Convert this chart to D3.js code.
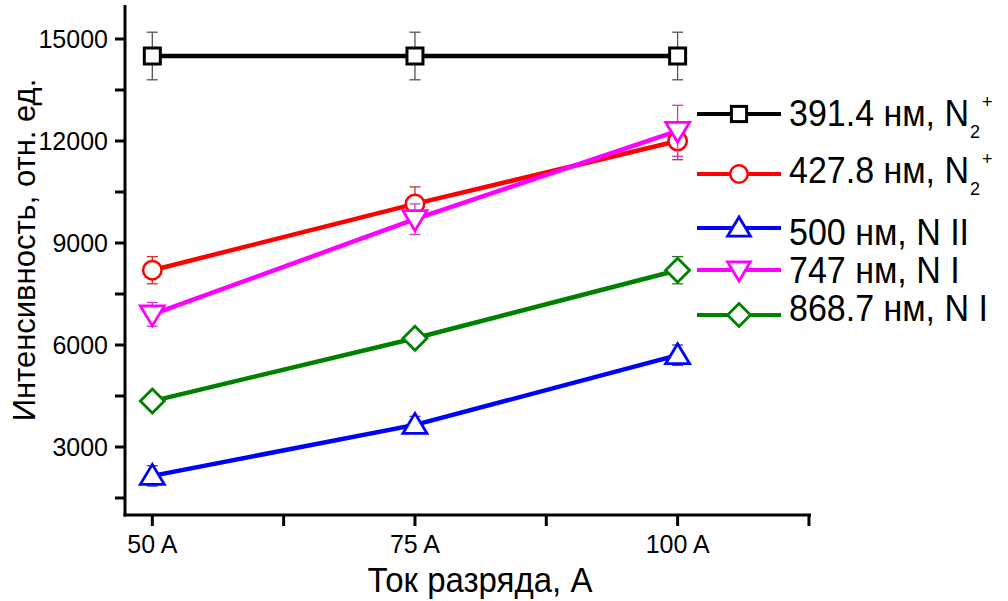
<!DOCTYPE html>
<html><head><meta charset="utf-8">
<script src="https://cdn.jsdelivr.net/npm/d3@7"></script>
<style>body{margin:0;background:#fff}svg{display:block}text{font-family:Arial,"Liberation Sans",sans-serif}</style>
</head><body><svg id="c" width="1008" height="601"></svg>
<script>
const currents = [50, 75, 100];
const xTickLabels = ["50 A", "75 A", "100 A"];
const yTicks = [3000, 6000, 9000, 12000, 15000];
const s391 = [14500, 14500, 14500];
const e391 = [700, 700, 700];
const s428 = [8200, 10150, 12000];
const e428 = [400, 500, 550];
const s500 = [2150, 3650, 5700];
const e500 = [300, 250, 300];
const s747 = [6900, 9700, 12300];
const e747 = [350, 450, 750];
const s869 = [4350, 6200, 8200];
const e869 = [200, 200, 400];
const names = ["391.4 нм, N", "427.8 нм, N", "500 нм, N II", "747 нм, N I", "868.7 нм, N I"];

const series = [
  {name:names[0], sub:true, v:s391, e:e391, color:"#000000", ecolor:"#555555", shape:"square", w:4.5},
  {name:names[1], sub:true, v:s428, e:e428, color:"#ff0000", ecolor:"#c83232", shape:"circle", w:4.5},
  {name:names[2], sub:false, v:s500, e:e500, color:"#0000ff", ecolor:"#3c3cc0", shape:"up", w:4.5},
  {name:names[3], sub:false, v:s747, e:e747, color:"#ff00ff", ecolor:"#c83cc8", shape:"down", w:4.5},
  {name:names[4], sub:false, v:s869, e:e869, color:"#008000", ecolor:"#207820", shape:"diamond", w:4.5}
];

const svg = d3.select("#c");
const x = d3.scaleLinear().domain([47.4, 112.6]).range([125, 810]);
const y = d3.scaleLinear().domain([1000, 16000]).range([515, 5]);

const gx = svg.append("g").attr("transform","translate(0,515)");
gx.append("line").attr("x1",123.5).attr("x2",811).attr("stroke","#000").attr("stroke-width",3);
const gy = svg.append("g");
gy.append("line").attr("x1",125).attr("x2",125).attr("y1",5).attr("y2",516.5).attr("stroke","#000").attr("stroke-width",3);

const xMinor = [62.5, 87.5, 112.5];
currents.concat(xMinor).forEach(t=>{
  gx.append("line").attr("x1",x(t)).attr("x2",x(t)).attr("y1",0).attr("y2",11).attr("stroke","#000").attr("stroke-width",3);
});
xTickLabels.forEach((l,i)=>{
  gx.append("text").attr("x",x(currents[i])).attr("y",38).attr("text-anchor","middle").attr("font-size",25).text(l);
});
const yMinor = [1500, 4500, 7500, 10500, 13500];
yTicks.concat(yMinor).forEach(t=>{
  gy.append("line").attr("x1",115).attr("x2",125).attr("y1",y(t)).attr("y2",y(t)).attr("stroke","#000").attr("stroke-width",3);
});
yTicks.forEach(t=>{
  gy.append("text").attr("x",108).attr("y",y(t)+9).attr("text-anchor","end").attr("font-size",25).text(t);
});

svg.append("text").attr("transform","translate(480,592) scale(1,1.06)").attr("text-anchor","middle").attr("font-size",33).text("Ток разряда, А");
svg.append("text").attr("transform","translate(35,250) rotate(-90) scale(1,1.03)").attr("text-anchor","middle").attr("font-size",31).text("Интенсивность, отн. ед.");

function marker(g, shape, cx, cy, color, k){
  if(shape==="square") g.append("rect").attr("x",cx-8*k).attr("y",cy-8*k).attr("width",16*k).attr("height",16*k).attr("fill","#fff").attr("stroke",color).attr("stroke-width",3);
  else if(shape==="circle") g.append("circle").attr("cx",cx).attr("cy",cy).attr("r",9.2*k).attr("fill","#fff").attr("stroke",color).attr("stroke-width",2.5);
  else if(shape==="up") g.append("path").attr("d",`M${cx},${cy-11.5*k}L${cx+12*k},${cy+8.5*k}L${cx-12*k},${cy+8.5*k}Z`).attr("fill","#fff").attr("stroke",color).attr("stroke-width",2.8);
  else if(shape==="down") g.append("path").attr("d",`M${cx},${cy+11.5*k}L${cx+12*k},${cy-8.5*k}L${cx-12*k},${cy-8.5*k}Z`).attr("fill","#fff").attr("stroke",color).attr("stroke-width",2.8);
  else if(shape==="diamond") g.append("path").attr("d",`M${cx},${cy-12*k}L${cx+12*k},${cy}L${cx},${cy+12*k}L${cx-12*k},${cy}Z`).attr("fill","#fff").attr("stroke",color).attr("stroke-width",2.8);
}

const line = d3.line().x((d,i)=>x(currents[i])).y(d=>y(d));
const order = [0,1,3,4,2];
order.forEach(k=>{
  const s = series[k];
  svg.append("path").attr("d",line(s.v)).attr("fill","none").attr("stroke",s.color).attr("stroke-width",s.w);
});
order.forEach(k=>{
  const s = series[k];
  const g = svg.append("g");
  s.v.forEach((v,i)=>{
    const cx = x(currents[i]);
    const lo = y(v - s.e[i]), hi = y(v + s.e[i]);
    g.append("line").attr("x1",cx).attr("x2",cx).attr("y1",lo).attr("y2",hi).attr("stroke",s.ecolor).attr("stroke-width",1.3);
    [lo,hi].forEach(yy=>g.append("line").attr("x1",cx-5.5).attr("x2",cx+5.5).attr("y1",yy).attr("y2",yy).attr("stroke",s.ecolor).attr("stroke-width",1.3));
  });
  s.v.forEach((v,i)=>marker(g, s.shape, x(currents[i]), y(v), s.color, 1));
});

const legY = [114, 174, 228, 270, 315];
const legBase = [126, 183, 245, 283, 321];
series.forEach((s,i)=>{
  const g = svg.append("g");
  g.append("line").attr("x1",697).attr("x2",781).attr("y1",legY[i]).attr("y2",legY[i]).attr("stroke",s.color).attr("stroke-width",4);
  marker(g, s.shape, 739, legY[i], s.color, 0.95);
  const t = g.append("text").attr("transform",`translate(789,${legBase[i]}) scale(1,1.06)`).attr("font-size",34);
  t.append("tspan").text(s.name);
  if(s.sub){
    t.append("tspan").attr("font-size",18).attr("dy",11).attr("dx",1).text("2");
    t.append("tspan").attr("font-size",18).attr("dy",-28).attr("dx",2).text("+");
  }
});
</script></body></html>
